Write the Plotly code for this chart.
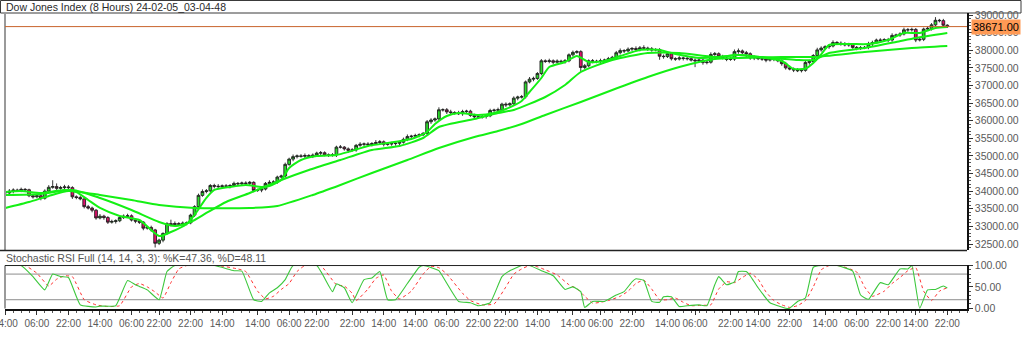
import plotly.graph_objects as go

W, H = 1024, 344

# ---------------- data ----------------
closes = [
    33950, 34000, 34030, 34020, 34050, 34040, 33870, 33840, 33870, 33800,
    34000, 34110, 34130, 34080, 34100, 34120, 34100, 33840, 33820, 33780,
    33560, 33520, 33460, 33240, 33290, 33250, 33120, 33140, 33160, 33250,
    33290, 33300, 33180, 33150, 33120, 32950, 32970, 32900, 32520, 32610,
    32800, 33080, 33050, 33080, 33060, 33090, 33100, 33320, 33560, 33880,
    33990, 34010, 34160, 34140, 34130, 34150, 34140, 34160, 34220, 34210,
    34230, 34220, 34250, 34020, 34030, 34060, 34220, 34250, 34260, 34400,
    34430, 34760, 34910, 34980, 35000, 34990, 35010, 34990, 35020, 35080,
    35090, 35030, 35020, 35030, 35250, 35250, 35200, 35160, 35170, 35300,
    35330, 35340, 35320, 35350, 35380, 35400, 35330, 35340, 35350, 35360,
    35390, 35470, 35550, 35560, 35580, 35600, 35640, 35970, 36020, 36050,
    36310, 36310, 36250, 36230, 36220, 36200, 36260, 36270, 36150, 36110,
    36100, 36120, 36140, 36290, 36300, 36310, 36470, 36450, 36480, 36640,
    36670, 36680, 37100, 37180, 37200, 37340, 37700, 37680, 37700, 37660,
    37690, 37670, 37700, 37870, 37940, 37960, 37510, 37560, 37700, 37690,
    37680, 37700, 37720, 37760, 37800, 37930, 37990, 37980, 38030, 38050,
    38020, 38070, 38060, 38040, 38010, 38020, 37830, 37820, 37900, 37760,
    37750, 37780, 37770, 37760, 37720, 37700, 37720, 37650, 37660, 37880,
    37900, 37820, 37780, 37740, 37750, 37960, 37980, 37930, 37900, 37780,
    37800, 37760, 37750, 37720, 37740, 37740, 37700, 37620, 37500, 37470,
    37440, 37420, 37430, 37650, 37680, 37850, 38010, 38060, 38100, 38120,
    38220, 38200, 38190, 38150, 38160, 38080, 38060, 38070, 38080, 38180,
    38220, 38290, 38280, 38300, 38290, 38420, 38430, 38460, 38580, 38580,
    38590, 38290, 38310, 38600, 38620, 38720, 38850, 38840, 38710, 38671,
]
first_open = 33990

upper_wick = [
    40, 60, 50, 40, 50, 40, 30, 50, 60, 40,
    50, 60, 180, 90, 50, 60, 50, 40, 40, 50,
    40, 50, 40, 30, 60, 40, 40, 50, 40, 50,
    50, 60, 40, 40, 50, 30, 40, 50, 30, 40,
    30, 40, 110, 60, 40, 50, 40, 40, 40, 50,
    60, 50, 40, 50, 60, 40, 50, 40, 50, 40,
    40, 50, 40, 30, 40, 50, 40, 60, 50, 40,
    40, 50, 40, 60, 40, 50, 60, 40, 50, 40,
    50, 40, 40, 50, 40, 60, 30, 40, 50, 40,
    60, 40, 50, 40, 70, 50, 40, 40, 50, 40,
    40, 50, 60, 40, 50, 40, 40, 50, 50, 40,
    70, 40, 50, 60, 40, 60, 50, 40, 40, 50,
    40, 50, 40, 50, 40, 60, 40, 50, 40, 50,
    40, 50, 40, 60, 50, 40, 50, 40, 60, 40,
    50, 40, 50, 40, 50, 40, 40, 50, 40, 50,
    40, 60, 40, 50, 40, 50, 60, 40, 50, 40,
    60, 50, 70, 40, 50, 40, 40, 50, 40, 50,
    40, 50, 40, 60, 40, 50, 40, 50, 40, 60,
    50, 40, 50, 40, 50, 60, 70, 40, 50, 40,
    50, 40, 60, 40, 50, 40, 50, 40, 50, 40,
    40, 50, 40, 60, 50, 40, 60, 50, 40, 50,
    60, 40, 50, 40, 50, 40, 40, 50, 40, 60,
    50, 40, 50, 40, 50, 60, 40, 50, 60, 50,
    50, 40, 50, 40, 60, 50, 90, 40, 50, 30,
]
lower_wick = [
    50, 40, 60, 40, 50, 60, 40, 50, 40, 60,
    40, 50, 40, 60, 40, 50, 40, 60, 50, 40,
    50, 40, 60, 50, 40, 60, 50, 40, 60, 40,
    40, 50, 40, 60, 50, 60, 40, 50, 120, 50,
    60, 40, 50, 40, 50, 40, 60, 40, 50, 40,
    40, 50, 40, 60, 40, 50, 40, 60, 40, 50,
    50, 40, 60, 50, 40, 60, 40, 50, 40, 50,
    40, 50, 40, 60, 50, 40, 60, 40, 50, 40,
    60, 40, 50, 40, 60, 40, 50, 60, 40, 50,
    40, 60, 40, 50, 40, 50, 60, 40, 50, 60,
    50, 40, 50, 60, 40, 50, 40, 40, 60, 50,
    40, 50, 60, 40, 50, 40, 60, 50, 40, 60,
    50, 40, 60, 40, 50, 40, 50, 60, 40, 50,
    60, 40, 50, 40, 60, 40, 50, 40, 50, 60,
    40, 60, 50, 40, 50, 40, 130, 50, 40, 60,
    50, 40, 60, 40, 50, 40, 50, 60, 40, 50,
    40, 50, 40, 60, 50, 40, 100, 60, 40, 50,
    50, 40, 60, 50, 40, 180, 40, 60, 50, 40,
    40, 60, 40, 50, 40, 50, 60, 40, 100, 50,
    60, 40, 50, 60, 40, 50, 40, 60, 50, 40,
    60, 40, 50, 40, 60, 50, 40, 50, 40, 60,
    40, 50, 60, 40, 50, 40, 60, 50, 40, 50,
    60, 40, 50, 40, 60, 50, 40, 50, 40, 60,
    50, 60, 40, 50, 40, 60, 40, 50, 40, 40,
]

fast_idx = [0, 4, 9, 15, 18, 21, 24, 29, 34, 39, 42, 46, 48, 51, 53, 57, 61, 65, 67, 70,
            72, 75, 79, 84, 87, 92, 97, 103, 107, 109, 112, 115, 120, 124, 127, 131, 133, 136, 138, 142,
            145, 148, 152, 156, 161, 166, 170, 176, 181, 186, 191, 197, 200, 203, 205, 207, 209, 214, 219, 224,
            228, 232, 236, 239]
fast_val = [33977, 34005, 33948, 34034, 33977, 33750, 33523, 33296, 33182, 32728,
            32841, 33069, 33324, 33807, 34034, 34119, 34176, 34119, 34147, 34317,
            34658, 34885, 34998, 35027, 35112, 35282, 35367, 35481, 35680, 35907,
            36134, 36219, 36162, 36219, 36332, 36559, 36815, 37212, 37524, 37666,
            37836, 37666, 37695, 37836, 38007, 38007, 37893, 37780, 37808, 37865,
            37808, 37695, 37470, 37480, 37640, 37880, 38149, 38177, 38177, 38291,
            38489, 38489, 38631, 38659]

med_idx = [0, 9, 17, 24, 32, 39, 43, 47, 51, 56, 62, 70, 77, 85, 93, 100, 106, 110, 119, 125,
           129, 137, 142, 146, 154, 163, 171, 180, 186, 192, 201, 205, 209, 218, 226, 231, 239]
med_val = [33892, 33920, 34034, 33807, 33466, 33126, 33012, 33126, 33381, 33693,
           33949, 34317, 34601, 34885, 35169, 35282, 35509, 35821, 36048, 36219,
           36304, 36673, 37013, 37382, 37723, 37922, 37922, 37808, 37865, 37808,
           37723, 37723, 37922, 38063, 38234, 38347, 38489]

slow_idx = [0, 6, 11, 16, 24, 32, 39, 48, 62, 69, 78, 85, 93, 102, 110, 119, 125, 131, 137, 146,
            154, 163, 171, 180, 186, 197, 205, 218, 230, 239]
slow_val = [33523, 33693, 33863, 34005, 33892, 33750, 33608, 33523, 33523, 33579,
            33892, 34176, 34516, 34885, 35225, 35538, 35708, 35907, 36162, 36531,
            36872, 37240, 37524, 37751, 37780, 37808, 37808, 37950, 38063, 38120]

k_idx = [0, 4, 7, 10, 12, 14, 16, 19, 23, 24, 28, 31, 33, 34, 36, 39, 41, 43, 53, 58,
         60, 63, 65, 67, 69, 71, 73, 79, 83, 84, 86, 88, 91, 93, 95, 97, 99, 102, 105, 106,
         109, 110, 115, 118, 120, 123, 126, 128, 131, 133, 136, 139, 142, 144, 146, 147, 149, 152, 155, 157,
         159, 160, 162, 164, 166, 167, 169, 171, 173, 176, 178, 180, 181, 183, 185, 186, 188, 189, 191, 194,
         196, 198, 199, 201, 203, 205, 207, 211, 215, 217, 219, 222, 224, 227, 229, 230, 232, 234, 236, 238, 239]
k_val = [100, 100, 74, 43, 80, 74, 72, 8, 3, 5, 6, 65, 55, 51, 43, 20, 86, 100, 100, 88,
         87, 20, 16, 36, 48, 67, 100, 100, 39, 57, 48, 13, 67, 71, 86, 20, 20, 58, 96, 100,
         92, 88, 16, 13, 6, 13, 74, 88, 100, 100, 88, 76, 44, 50, 39, 2, 16, 16, 31, 39,
         62, 69, 65, 16, 14, 27, 27, 4, 6, 8, 6, 55, 74, 55, 62, 86, 86, 76, 48, 13,
         6, 0, 0, 16, 24, 96, 100, 100, 87, 31, 21, 60, 55, 92, 92, 100, 0, 43, 44, 52, 47.36]

d_idx = [0, 5, 8, 11, 13, 15, 17, 20, 23, 26, 29, 32, 34, 36, 38, 40, 42, 44, 46, 54,
         59, 61, 64, 66, 68, 70, 72, 74, 76, 80, 84, 86, 88, 89, 92, 94, 96, 98, 100, 103,
         106, 108, 110, 112, 116, 118, 121, 124, 127, 129, 131, 133, 135, 137, 140, 143, 145, 147, 149, 151,
         153, 156, 158, 160, 162, 164, 166, 168, 170, 172, 174, 177, 179, 181, 183, 185, 187, 189, 191, 193,
         195, 197, 199, 201, 203, 205, 207, 209, 212, 216, 218, 220, 223, 225, 227, 229, 231, 233, 235, 237, 239]
d_val = [100, 100, 82, 52, 68, 76, 74, 20, 8, 4, 6, 50, 58, 50, 38, 24, 60, 92, 100, 100,
         92, 86, 40, 22, 28, 44, 58, 86, 100, 100, 55, 52, 35, 18, 45, 70, 78, 40, 22, 40,
         80, 98, 95, 80, 35, 18, 8, 10, 50, 80, 92, 100, 97, 90, 78, 55, 46, 28, 12, 14,
         18, 28, 40, 58, 66, 45, 20, 20, 24, 14, 6, 7, 8, 45, 62, 60, 72, 82, 68, 38,
         18, 8, 2, 6, 18, 50, 90, 100, 99, 85, 50, 28, 40, 58, 72, 88, 95, 40, 18, 40, 48.11]

tick_pos = [0, 8, 16, 24, 32, 39, 47, 55, 64, 72, 79, 88, 96, 104, 112, 120, 127, 135, 144, 151,
            159, 168, 175, 184, 191, 199, 208, 216, 224, 231, 239]
tick_text = ["14:00", "06:00", "22:00", "14:00", "06:00", "22:00", "22:00", "14:00", "14:00", "06:00",
             "22:00", "22:00", "14:00", "14:00", "06:00", "22:00", "22:00", "14:00", "14:00", "06:00",
             "22:00", "14:00", "06:00", "22:00", "14:00", "22:00", "14:00", "06:00", "22:00", "14:00", "22:00"]

price_ticks = [32500, 33000, 33500, 34000, 34500, 35000, 35500, 36000, 36500, 37000, 37500, 38000, 38500, 39000]
stoch_ticks = [0, 50, 100]
last_price = 38671.00
stoch_levels = [20, 80]

title_text = "Dow Jones Index (8 Hours) 24-02-05_03-04-48"
stoch_title = "Stochastic RSI Full (14, 14, 3, 3): %K=47.36, %D=48.11"

# ---------------- derived OHLC ----------------
idx = list(range(len(closes)))
opens = [first_open] + closes[:-1]
highs = [max(o, c) + w for o, c, w in zip(opens, closes, upper_wick)]
lows = [min(o, c) - w for o, c, w in zip(opens, closes, lower_wick)]


def px(x):
    return x / W


def py(y):
    return 1 - y / H


FONT = "Liberation Sans"
TICKC = "#5a5a5a"

fig = go.Figure()

fig.add_trace(go.Candlestick(
    x=idx, open=opens, high=highs, low=lows, close=closes,
    increasing=dict(fillcolor="#2BDD2B", line=dict(color="#202020", width=0.9)),
    decreasing=dict(fillcolor="#E0106A", line=dict(color="#202020", width=0.9)),
    whiskerwidth=0, xaxis="x", yaxis="y", showlegend=False, hoverinfo="skip",
))

for xi, yv in ((slow_idx, slow_val), (med_idx, med_val), (fast_idx, fast_val)):
    fig.add_trace(go.Scatter(
        x=xi, y=yv, mode="lines", xaxis="x", yaxis="y",
        line=dict(color="#14F014", width=2, shape="spline", smoothing=0.6),
        showlegend=False, hoverinfo="skip",
    ))

fig.add_trace(go.Scatter(
    x=d_idx, y=d_val, mode="lines", xaxis="x", yaxis="y2",
    line=dict(color="#FF3030", width=1, dash="dot", shape="spline", smoothing=0.4),
    showlegend=False, hoverinfo="skip",
))
fig.add_trace(go.Scatter(
    x=k_idx, y=k_val, mode="lines", xaxis="x", yaxis="y2",
    line=dict(color="#3CC83C", width=1.1, shape="spline", smoothing=0.4),
    showlegend=False, hoverinfo="skip",
))

x_dom = [px(5), px(967)]
price_dom = [py(250), py(13)]
stoch_dom = [py(308.9), py(264.9)]

shapes = [
    # title bar
    dict(type="rect", xref="paper", yref="paper", x0=px(0.5), x1=px(1021), y0=py(13), y1=py(0.5),
         line=dict(color="#3a3a3a", width=1), fillcolor="white", layer="below"),
    # price panel left border
    dict(type="line", xref="paper", yref="paper", x0=px(5), x1=px(5), y0=py(250), y1=py(13),
         line=dict(color="#9a9a9a", width=2)),
    # price panel bottom border
    dict(type="line", xref="paper", yref="paper", x0=0, x1=px(967), y0=py(250.5), y1=py(250.5),
         line=dict(color="#222222", width=1.5)),
    # stoch panel left border
    dict(type="line", xref="paper", yref="paper", x0=px(5), x1=px(5), y0=py(308.5), y1=py(265.5),
         line=dict(color="#9a9a9a", width=2)),
    # stoch panel top border
    dict(type="line", xref="paper", yref="y2", x0=px(5), x1=px(967), y0=100, y1=100,
         line=dict(color="#222222", width=1)),
    # last price line
    dict(type="line", xref="paper", yref="y", x0=px(5), x1=px(967), y0=last_price, y1=last_price,
         line=dict(color="#C8642D", width=1)),
]
for lv in stoch_levels:
    shapes.append(dict(type="line", xref="paper", yref="y2", x0=px(5), x1=px(967), y0=lv, y1=lv,
                       line=dict(color="#8c8c8c", width=1), layer="below"))

annotations = [
    dict(text=title_text, xref="paper", yref="paper", x=px(4), y=py(6.5), xanchor="left", yanchor="middle",
         showarrow=False, font=dict(family=FONT, size=10.5, color="#2a2a2a")),
    dict(text=stoch_title, xref="paper", yref="paper", x=px(4), y=py(257.5), xanchor="left", yanchor="middle",
         showarrow=False, font=dict(family=FONT, size=10.5, color="#555555")),
    dict(text="%.2f" % last_price, xref="paper", yref="y", x=px(971), y=last_price, xanchor="left",
         yanchor="middle", showarrow=False, bgcolor="#FF9A55", borderpad=1,
         font=dict(family=FONT, size=11, color="#000000")),
]

fig.update_layout(
    width=W, height=H, margin=dict(l=0, r=0, t=0, b=0, autoexpand=False),
    paper_bgcolor="white", plot_bgcolor="white", boxgap=0.0,
    showlegend=False, shapes=shapes, annotations=annotations,
    xaxis=dict(domain=x_dom, range=[-0.1, 244.0], anchor="y2", rangeslider=dict(visible=False),
               automargin=False, tickangle=0, ticklabeloverflow="allow",
               tickmode="array", tickvals=tick_pos, ticktext=tick_text, ticks="outside", ticklen=4,
               tickcolor="#333", showline=True, linecolor="#111111", linewidth=2, showgrid=False,
               zeroline=False, tickfont=dict(family=FONT, size=10, color=TICKC),
               minor=dict(tick0=0, dtick=2, ticks="outside", ticklen=2, tickcolor="#555")),
    yaxis=dict(domain=price_dom, range=[32330, 39057], side="right", anchor="x", automargin=False,
               tickmode="array", tickvals=price_ticks, tickformat=".2f", ticks="outside", ticklen=4,
               tickcolor="#333", showline=True, linecolor="#111111", linewidth=1.5, showgrid=False,
               zeroline=False, tickfont=dict(family=FONT, size=10.5, color=TICKC),
               minor=dict(tick0=0, dtick=100, ticks="outside", ticklen=2, tickcolor="#555")),
    yaxis2=dict(domain=stoch_dom, range=[-1.5, 101.5], side="right", anchor="x", automargin=False,
                tickmode="array", tickvals=stoch_ticks, tickformat=".2f", ticks="outside", ticklen=4,
                tickcolor="#333", showline=True, linecolor="#111111", linewidth=1.5, showgrid=False,
                zeroline=False, tickfont=dict(family=FONT, size=10.5, color=TICKC),
                minor=dict(tick0=0, dtick=10, ticks="outside", ticklen=2, tickcolor="#555")),
)

fig.write_html("out.html")
